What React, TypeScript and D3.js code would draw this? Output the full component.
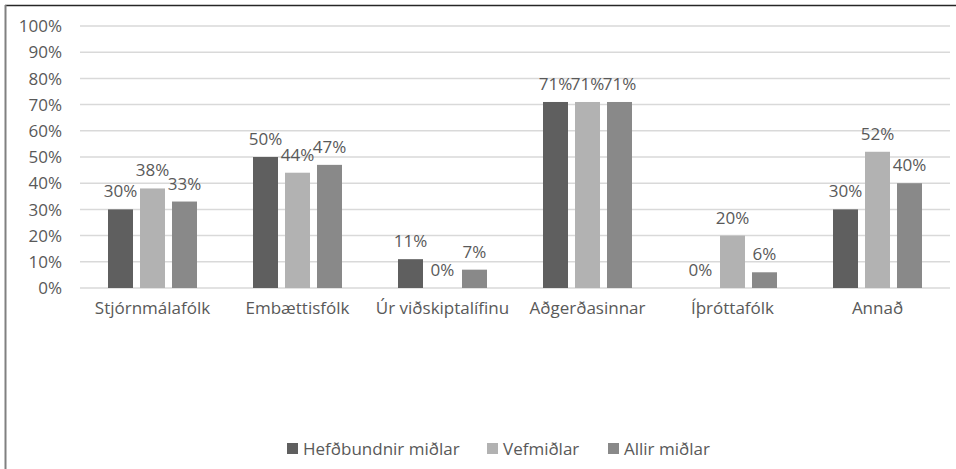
import React from "react";
import * as d3 from "d3";

const categories = ["Stjórnmálafólk", "Embættisfólk", "Úr viðskiptalífinu", "Aðgerðasinnar", "Íþróttafólk", "Annað"];
const seriesNames = ["Hefðbundnir miðlar", "Vefmiðlar", "Allir miðlar"];
const hefdbundnir = [0.30, 0.50, 0.11, 0.71, 0.00, 0.30];
const vefmidlar = [0.38, 0.44, 0.00, 0.71, 0.20, 0.52];
const allir = [0.33, 0.47, 0.07, 0.71, 0.06, 0.40];
const yTicks = [0, 0.1, 0.2, 0.3, 0.4, 0.5, 0.6, 0.7, 0.8, 0.9, 1.0];
const colors = ["#5f5f5f", "#b2b2b2", "#898989"];

const W = 956;
const H = 469;
const FONT = "'Open Sans', sans-serif";
const FS = 17;
const TEXT = "#595959";

export default function App() {
  const seriesValues = [hefdbundnir, vefmidlar, allir];
  const x0 = d3.scaleBand<string>().domain(categories).range([80, 950]).paddingInner(0).paddingOuter(0);
  const x1 = d3.scaleBand<string>().domain(seriesNames).range([-44.5, 44.5]).paddingInner(7 / 32).paddingOuter(0);
  const y = d3.scaleLinear().domain([0, 1]).range([288, 26]);
  const fmt = d3.format(".0%");

  const legendX = [287, 487, 608];

  return (
    <svg width={W} height={H} style={{ position: "absolute", left: 0, top: 0, background: "#fff" }}>
      <rect x={0} y={0} width={W} height={H} fill="#fff" />
      <line x1={5} x2={W} y1={5.5} y2={5.5} stroke="#262626" strokeWidth={1.5} />
      <line x1={5.5} x2={5.5} y1={5} y2={H} stroke="#808080" strokeWidth={2} />
      {yTicks.map((t) => (
        <g key={t}>
          <line x1={80} x2={950} y1={y(t)} y2={y(t)} stroke="#d9d9d9" strokeWidth={1.5} />
          <text x={62} y={y(t)} dy="0.36em" textAnchor="end" fontFamily={FONT} fontSize={FS} fill={TEXT}>
            {fmt(t)}
          </text>
        </g>
      ))}
      {categories.map((c, ci) => (
        <g key={c} transform={`translate(${x0(c)! + x0.bandwidth() / 2},0)`}>
          {seriesNames.map((s, si) => {
            const v = seriesValues[si][ci];
            const bx = x1(s)!;
            return (
              <g key={s}>
                <rect x={bx} y={y(v)} width={x1.bandwidth()} height={y(0) - y(v)} fill={colors[si]} />
                <text
                  x={bx + x1.bandwidth() / 2}
                  y={y(v) - 12}
                  textAnchor="middle"
                  fontFamily={FONT}
                  fontSize={FS}
                  fill={TEXT}
                >
                  {fmt(v)}
                </text>
              </g>
            );
          })}
          <text x={0} y={314} textAnchor="middle" fontFamily={FONT} fontSize={FS} fill={TEXT}>
            {c}
          </text>
        </g>
      ))}
      {seriesNames.map((s, si) => (
        <g key={s}>
          <rect x={legendX[si]} y={443} width={11} height={11} fill={colors[si]} />
          <text x={legendX[si] + 16} y={455} fontFamily={FONT} fontSize={FS} fill={TEXT}>
            {s}
          </text>
        </g>
      ))}
    </svg>
  );
}
